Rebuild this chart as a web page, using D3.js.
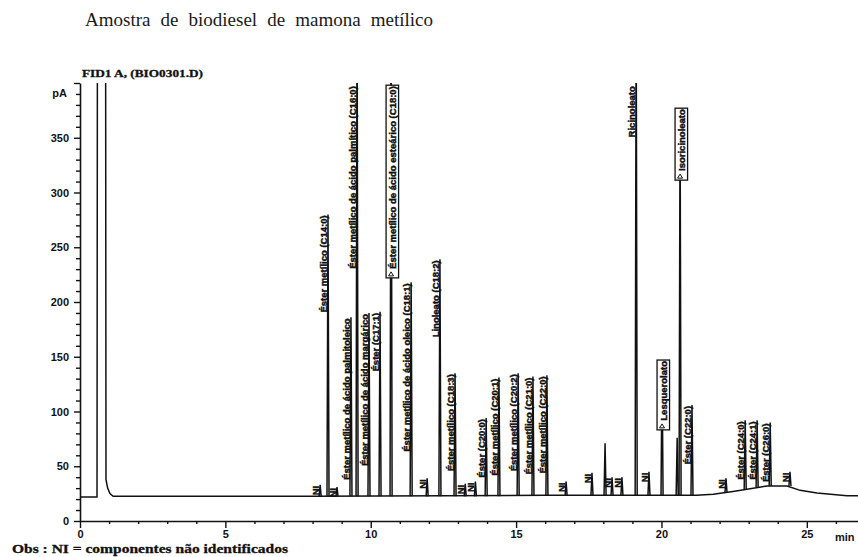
<!DOCTYPE html>
<html>
<head>
<meta charset="utf-8">
<script src="https://cdn.jsdelivr.net/npm/d3@7"></script>
<style>
  body { margin: 0; background: #fff; }
  svg { display: block; }
</style>
</head>
<body>
<svg id="chart" width="858" height="557"></svg>
<script>
// ---- texts ----
const title = "Amostra de biodiesel de mamona metílico";
const signalName = "FID1 A, (BIO0301.D)";
const footnote = "Obs : NI = componentes não identificados";
const yUnit = "pA";
const xUnit = "min";

// ---- axis ticks ----
const yMajorTicks = [0, 50, 100, 150, 200, 250, 300, 350];
const xMajorTicks = [0, 5, 10, 15, 20, 25];

// ---- detector baseline, incl. solvent front [min, pA] ----
const baselineTrace = [
  [0, 22], [0.585, 22], [0.60, 480], [0.88, 480], [0.894, 38], [0.95, 30],
  [1.03, 25], [1.14, 22.5], [8.0, 22.5], [16.0, 23.5], [21.2, 23.5],
  [21.78, 24.5], [22.46, 27], [23.63, 32], [24.32, 32], [24.77, 28],
  [25.35, 25.5], [26.38, 23], [26.76, 23]
];

// ---- integrated peaks: [retention time (min), apex (pA), foot level (pA), label] ----
const peaks = [
  [8.26, 33, 22.5, "NI"],
  [8.53, 280, 22.5, "Éster metílico (C14:0)"],
  [8.84, 31, 22.5, "NI"],
  [9.32, 186, 22.5, "Éster metílico de ácido palmitoleico"],
  [9.53, 480, 22.5, "Éster metílico de ácido palmítico (C16:0)"],
  [9.94, 190, 22.5, "Éster metílico de ácido margárico"],
  [10.32, 191, 22.5, "Éster (C17:1)"],
  [10.70, 480, 22.5, "Éster metílico de ácido esteárico (C18:0)"],
  [11.39, 218, 22.5, "Éster metílico de ácido oleico (C18:1)"],
  [11.94, 39, 22.5, "NI"],
  [12.38, 239, 22.5, "Linoleato (C18:2)"],
  [12.90, 135, 22.5, "Éster metílico (C18:3)"],
  [13.25, 34, 22.5, "NI"],
  [13.60, 36, 22.5, "NI"],
  [13.97, 94, 22.5, "Éster (C20:0)"],
  [14.41, 131, 22.5, "Éster metílico (C20:1)"],
  [15.07, 135, 23, "Éster metílico (C20:2)"],
  [15.58, 132, 23, "Éster metílico (C21:0)"],
  [16.06, 133, 23, "Éster metílico (C22:0)"],
  [16.72, 36, 23, "NI"],
  [17.61, 44, 23.5, "NI"],
  [18.06, 71, 23.5, null],
  [18.30, 40, 23.5, "NI"],
  [18.64, 40, 23.5, "NI"],
  [19.13, 480, 23.5, "Ricinoleato"],
  [19.57, 45, 23.5, "NI"],
  [20.02, 147, 23.5, "Lesquerolato"],
  [20.54, 76, 23.5, null],
  [20.64, 377, 23.5, "Isoricinoleato"],
  [21.05, 106, 23.5, "Éster (C22:0)"],
  [22.22, 39, 26, "NI"],
  [22.88, 92, 28.5, "Éster (C24:0)"],
  [23.29, 92, 31, "Éster (C24:1)"],
  [23.74, 90, 32, "Éster (C26:0)"],
  [24.42, 45, 32, "NI"]
];

// peaks whose label is printed inside a frame
const framedPeaks = [10.70, 20.02, 20.64];

// ---- layout ----
const svg = d3.select("#chart");
const x = d3.scaleLinear().domain([0, 26.76]).range([80, 858]);
const y = d3.scaleLinear().domain([0, 400]).range([521, 83]);
const ink = "#111";
const labelFont = "'Liberation Sans', Arial, sans-serif";
const serif = "'Liberation Serif', 'Times New Roman', serif";

svg.append("defs").append("clipPath").attr("id", "plotClip")
  .append("rect").attr("x", 80).attr("y", y(400)).attr("width", 800).attr("height", y(0) - y(400) + 2);

// title: natural letter spacing, words spread over the title width
const titleText = svg.append("text")
  .attr("x", 85).attr("y", 26)
  .attr("font-family", serif)
  .attr("font-size", 19).attr("fill", "#1a1a1a")
  .text(title);
const titleWidth = 348;
const natural = titleText.node().getComputedTextLength();
const gaps = title.split(" ").length - 1;
titleText.style("word-spacing", `${Math.max(0, (titleWidth - natural) / gaps)}px`);

svg.append("text")
  .attr("x", 82).attr("y", 77)
  .attr("font-family", serif).attr("font-weight", "bold")
  .attr("font-size", 11).attr("fill", ink)
  .attr("stroke", ink).attr("stroke-width", 0.3)
  .attr("textLength", 121).attr("lengthAdjust", "spacingAndGlyphs")
  .text(signalName);

// y axis
const yAxis = d3.axisLeft(y)
  .tickValues(d3.range(0, 401, 10))
  .tickFormat(d => yMajorTicks.includes(d) ? d : "")
  .tickSizeOuter(0);
const gy = svg.append("g").attr("transform", "translate(80,0)").call(yAxis);
gy.select(".domain").attr("stroke", ink).attr("stroke-width", 1.6);
gy.selectAll(".tick line")
  .attr("stroke", ink).attr("stroke-width", 1.4)
  .attr("x2", d => (d % 50 === 0 ? -6 : -4));
gy.selectAll(".tick text")
  .attr("x", -11)
  .attr("font-family", labelFont).attr("font-weight", "bold")
  .attr("font-size", 11).attr("fill", ink);
svg.append("text")
  .attr("x", 67).attr("y", y(400) + 14).attr("text-anchor", "end")
  .attr("font-family", labelFont).attr("font-weight", "bold")
  .attr("font-size", 11).attr("fill", ink).text(yUnit);

// x axis
const xAxis = d3.axisBottom(x)
  .tickValues(d3.range(0, 27, 1))
  .tickFormat(d => xMajorTicks.includes(d) ? d : "")
  .tickSizeOuter(0);
const gx = svg.append("g").attr("transform", `translate(0,${y(0)})`).call(xAxis);
gx.select(".domain").attr("stroke", ink).attr("stroke-width", 1.6);
gx.selectAll(".tick line")
  .attr("stroke", ink).attr("stroke-width", 1.4)
  .attr("y2", d => (d % 5 === 0 ? 7 : 3));
gx.selectAll(".tick text")
  .attr("y", 9)
  .attr("font-family", labelFont).attr("font-weight", "bold")
  .attr("font-size", 11).attr("fill", ink);
svg.append("text")
  .attr("x", 835).attr("y", y(0) + 20)
  .attr("font-family", labelFont).attr("font-weight", "bold")
  .attr("font-size", 11).attr("fill", ink).text(xUnit);

// chromatogram
const plot = svg.append("g").attr("clip-path", "url(#plotClip)");
const line = d3.line().x(d => x(d[0])).y(d => y(d[1]));

plot.append("path")
  .datum(baselineTrace)
  .attr("d", line)
  .attr("fill", "none").attr("stroke", ink).attr("stroke-width", 1.5);

const halfWidth = 0.035;
plot.selectAll("path.peak")
  .data(peaks)
  .join("path")
  .attr("class", "peak")
  .attr("d", p => line([[p[0] - halfWidth, p[2]], [p[0], p[1]], [p[0] + halfWidth, p[2]]]))
  .attr("fill", "none").attr("stroke", ink).attr("stroke-width", 1.5)
  .attr("stroke-linejoin", "miter");

// peak labels, printed vertically downward from the apex
const labelled = peaks.filter(p => p[3]);
const labels = plot.selectAll("g.peak-label")
  .data(labelled)
  .join("g")
  .attr("class", "peak-label");

labels.each(function (p) {
  const g = d3.select(this);
  const framed = framedPeaks.includes(p[0]);
  const top = y(Math.min(p[1], 398)) + 1;
  const px = x(p[0]);
  const bx = framed ? px + 4.5 : px - 1.2;
  const t = g.append("text")
    .attr("transform", `translate(${bx},${top}) rotate(-90)`)
    .attr("text-anchor", "end")
    .attr("font-family", labelFont).attr("font-weight", "bold")
    .attr("font-size", 9.5).attr("fill", ink)
    .attr("stroke", ink).attr("stroke-width", 0.45)
    .text(p[3]);
  if (framed) {
    const h = t.node().getBBox().width;
    g.insert("rect", "text")
      .attr("x", bx - 9.5).attr("y", top - 1)
      .attr("width", 12.5).attr("height", h + 10)
      .attr("fill", "#fff").attr("stroke", ink).attr("stroke-width", 1.3);
    g.append("path")
      .attr("d", `M${px - 2.5},${top + h + 7} L${px},${top + h + 3} L${px + 2.5},${top + h + 7} Z`)
      .attr("fill", "none").attr("stroke", ink).attr("stroke-width", 1);
  }
});

// footnote
svg.append("text")
  .attr("x", 12).attr("y", 553)
  .attr("font-family", serif)
  .attr("font-weight", "bold")
  .attr("font-size", 13).attr("fill", ink)
  .attr("stroke", ink).attr("stroke-width", 0.3)
  .attr("textLength", 276).attr("lengthAdjust", "spacingAndGlyphs")
  .text(footnote);
</script>
</body>
</html>
